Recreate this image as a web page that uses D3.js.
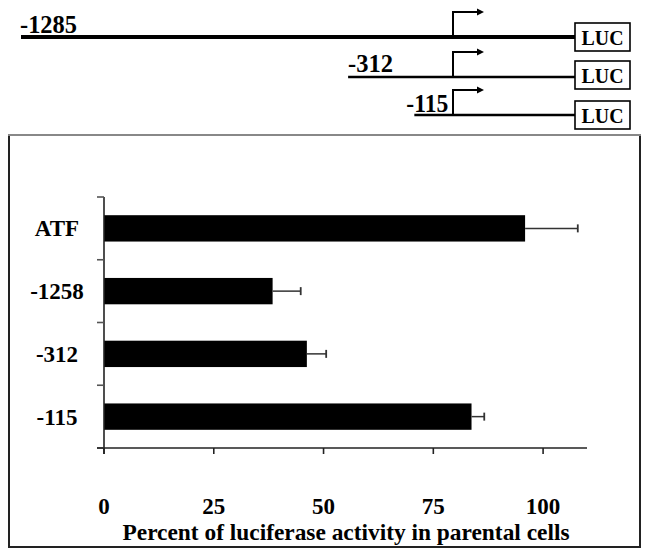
<!DOCTYPE html>
<html>
<head>
<meta charset="utf-8">
<script src="https://cdn.jsdelivr.net/npm/d3@7"></script>
<style>
  html, body { margin: 0; padding: 0; background: #fff; }
  svg { display: block; }
  text { font-family: "Liberation Serif", "Times New Roman", serif; font-weight: bold; fill: #000; }
</style>
</head>
<body>
<svg id="chart" width="649" height="550"></svg>
<script>
// ---- data ----
const categories = ["ATF", "-1258", "-312", "-115"];
const values = [95.9, 38.4, 46.2, 83.7];
const errors = [12.0, 6.4, 4.4, 2.9];
const xTicks = [0, 25, 50, 75, 100];
const xTitle = "Percent of luciferase activity in parental cells";

// promoter constructs (diagram)
const constructLabels = ["-1285", "-312", "-115"];
const constructStarts = [-1285, -312, -115];
const reporter = "LUC";

const svg = d3.select("#chart");

// ---- top diagram ----
const gx = d3.scaleLinear().domain([-1285, 0]).range([21, 453]);
const rowYs = [37, 77, 115];
const lineW = [4, 2.5, 2.5];
const labelPos = [{dx: -1, y: 33}, {dx: 0, y: 72}, {dx: -8, y: 112}];
const labelLen = [57, 45, 42];
const lucX0 = 575, lucW = 55, lucH = 28;

const diag = svg.append("g");
constructStarts.forEach((s, i) => {
  const y = rowYs[i];
  diag.append("line").attr("x1", gx(s)).attr("x2", lucX0).attr("y1", y).attr("y2", y)
    .attr("stroke", "#000").attr("stroke-width", lineW[i]);
  diag.append("text").attr("x", gx(s) + labelPos[i].dx).attr("y", labelPos[i].y)
    .attr("font-size", 26).attr("textLength", labelLen[i]).attr("lengthAdjust", "spacingAndGlyphs")
    .text(constructLabels[i]);
  // transcription start arrow
  const x0 = gx(0), top = y - 25;
  diag.append("path").attr("d", `M${x0},${y} V${top} H${x0 + 26}`)
    .attr("fill", "none").attr("stroke", "#000").attr("stroke-width", 2);
  diag.append("path").attr("d", `M${x0 + 31},${top} L${x0 + 24},${top - 3.5} L${x0 + 24},${top + 3.5} Z`)
    .attr("fill", "#000");
  // LUC box
  const by = y - lucH / 2 + (i === 1 ? -2 : 0);
  diag.append("rect").attr("x", lucX0).attr("y", by).attr("width", lucW).attr("height", lucH)
    .attr("fill", "#fff").attr("stroke", "#000").attr("stroke-width", 1.6);
  diag.append("text").attr("x", lucX0 + lucW / 2).attr("y", by + lucH / 2 + 8)
    .attr("text-anchor", "middle").attr("font-size", 21)
    .attr("textLength", 42).attr("lengthAdjust", "spacingAndGlyphs").text(reporter);
});

// ---- frame ----
svg.append("rect").attr("x", 9).attr("y", 135).attr("width", 631).attr("height", 412)
  .attr("fill", "none").attr("stroke", "#222").attr("stroke-width", 2);
svg.append("line").attr("x1", 8).attr("x2", 641).attr("y1", 135).attr("y2", 135)
  .attr("stroke", "#888").attr("stroke-width", 2);

// ---- bar chart ----
const x = d3.scaleLinear().domain([0, 110]).range([104, 587]);
const y = d3.scaleBand().domain(categories).range([197, 448]).paddingInner(0.58).paddingOuter(0.29);
const step = y.step();

const g = svg.append("g");
// bars
g.selectAll("rect.bar").data(categories).join("rect").attr("class", "bar")
  .attr("x", x(0)).attr("y", d => y(d))
  .attr("width", (d, i) => x(values[i]) - x(0)).attr("height", y.bandwidth())
  .attr("fill", "#000");
// error bars
g.selectAll("line.err").data(categories).join("line").attr("class", "err")
  .attr("x1", (d, i) => x(values[i])).attr("x2", (d, i) => x(values[i] + errors[i]))
  .attr("y1", d => y(d) + y.bandwidth() / 2).attr("y2", d => y(d) + y.bandwidth() / 2)
  .attr("stroke", "#333").attr("stroke-width", 1.5);
g.selectAll("line.cap").data(categories).join("line").attr("class", "cap")
  .attr("x1", (d, i) => x(values[i] + errors[i])).attr("x2", (d, i) => x(values[i] + errors[i]))
  .attr("y1", d => y(d) + y.bandwidth() / 2 - 4).attr("y2", d => y(d) + y.bandwidth() / 2 + 4)
  .attr("stroke", "#333").attr("stroke-width", 1.8);

// y axis
const yBounds = d3.range(categories.length + 1).map(i => 197 + i * step);
g.append("line").attr("x1", x(0)).attr("x2", x(0)).attr("y1", 197).attr("y2", 454)
  .attr("stroke", "#222").attr("stroke-width", 1.6);
g.selectAll("line.ytick").data(yBounds).join("line").attr("class", "ytick")
  .attr("x1", x(0) - 7).attr("x2", x(0)).attr("y1", d => d).attr("y2", d => d)
  .attr("stroke", "#555").attr("stroke-width", 1.6);
g.selectAll("text.ylab").data(categories).join("text").attr("class", "ylab")
  .attr("x", 57).attr("y", d => y(d) + y.bandwidth() / 2 + 8)
  .attr("text-anchor", "middle").attr("font-size", 23).text(d => d);

// x axis
g.append("line").attr("x1", x(0) - 7).attr("x2", x(110)).attr("y1", 448).attr("y2", 448)
  .attr("stroke", "#222").attr("stroke-width", 1.6);
g.selectAll("line.xtick").data(xTicks).join("line").attr("class", "xtick")
  .attr("x1", d => x(d)).attr("x2", d => x(d)).attr("y1", 448).attr("y2", 454)
  .attr("stroke", "#222").attr("stroke-width", 1.6);
g.selectAll("text.xlab").data(xTicks).join("text").attr("class", "xlab")
  .attr("x", d => x(d)).attr("y", 514).attr("text-anchor", "middle")
  .attr("font-size", 23).text(d => d);
g.append("text").attr("x", 346).attr("y", 540).attr("text-anchor", "middle")
  .attr("font-size", 23).attr("textLength", 447).attr("lengthAdjust", "spacingAndGlyphs").text(xTitle);
</script>
</body>
</html>
